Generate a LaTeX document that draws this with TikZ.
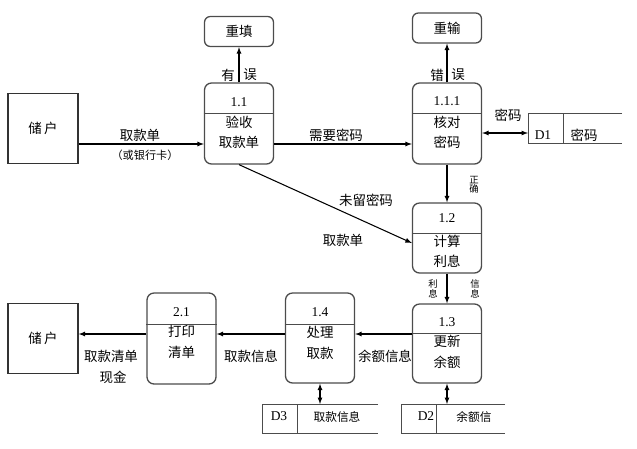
\documentclass[tikz,border=0pt]{standalone}
\usepackage{fontspec}
\setmainfont{Liberation Serif}
\newfontfamily\cjk{Noto Sans CJK SC}
\begin{document}
\begin{tikzpicture}[x=0.03cm,y=-0.03cm,
	proc/.style={draw=black!70,line width=1.1pt,rounded corners=6pt,minimum width=2.07cm},
	ext/.style={draw=black!80,line width=1.1pt,minimum width=2.1cm,minimum height=2.12cm},
	sep/.style={draw=black!70,line width=0.8pt},
	txt/.style={font=\cjk\fontsize{11.5}{17.5}\selectfont,align=center,inner sep=0pt},
	num/.style={font=\fontsize{11.5}{13}\selectfont,inner sep=0pt},
	lab/.style={font=\cjk\fontsize{11.5}{13}\selectfont,inner sep=0pt},
	sm/.style={font=\cjk\fontsize{8}{8}\selectfont,align=center,inner sep=0pt},
	flow/.style={-latex,line width=0.9pt},
	bi/.style={latex-latex,line width=0.9pt},
	store/.style={draw=black!70,line width=0.7pt}]
	\useasboundingbox (0,0) rectangle (637,449);
	% externals
	\node[ext,lab] (u1) at (43,128.5) {储\,户};
	\node[ext,lab] (u2) at (43,338.5) {储\,户};
	% 1.1
	\node[proc,minimum height=2.43cm] (p11) at (239,123.5) {};
	\draw[sep] (p11.west |- 0,113) -- (p11.east |- 0,113);
	\node[num] (p11n) at (239,102) {1.1};
	\node[txt] (p11t) at (239,132.5) {验收\\取款单};
	\node[proc,lab,minimum height=0.9cm,rounded corners=5pt] (r1) at (239,31.5) {重填};
	\draw[flow] (p11.north) -- (r1.south);
	\node[lab] (l1a) at (228,75) {有};
	\node[lab] (l1b) at (250,75) {误};
	\draw[flow] (u1.east |- 0,144) -- (p11.west |- 0,144);
	\node[lab] (l2a) at (140,135) {取款单};
	\node[font=\cjk\fontsize{9.5}{11}\selectfont,inner sep=0pt] (l2b) at (145,155) {（或银行卡）};
	% 1.1.1
	\node[proc,minimum height=2.43cm] (p111) at (447,123.5) {};
	\draw[sep] (p111.west |- 0,113) -- (p111.east |- 0,113);
	\node[num] (p111n) at (447,101) {1.1.1};
	\node[txt] (p111t) at (447,132.5) {核对\\密码};
	\node[proc,lab,minimum height=0.9cm,rounded corners=5pt] (r2) at (447,28) {重输};
	\draw[flow] (p111.north) -- (r2.south);
	\node[lab] (l3a) at (437,75) {错};
	\node[lab] (l3b) at (458,75) {误};
	\draw[flow] (p11.east |- 0,144) -- (p111.west |- 0,144);
	\node[lab] (l4) at (336,135) {需要密码};
	% D1
	\coordinate (d1) at (528,133);
	\draw[store] (622,113) -- (528,113) -- (528,143) -- (622,143);
	\draw[store] (563,113) -- (563,143);
	\node[num] (d1a) at (543,135) {D1};
	\node[lab] (d1b) at (584,135) {密码};
	\draw[bi] (p111.east |- d1) -- (d1);
	\node[lab] (l5) at (508,115) {密码};
	% 1.2
	\node[proc,minimum height=2.1cm] (p12) at (447,238) {};
	\draw[sep] (p12.west |- 0,233) -- (p12.east |- 0,233);
	\node[num] (p12n) at (447,218) {1.2};
	\node[txt] (p12t) at (447,251.5) {计算\\利息};
	\draw[flow] (p111.south) -- (p12.north);
	\node[sm] (l6) at (474,185) {正\\确};
	\draw[flow] (p11.south) -- (p12.west |- 0,243);
	\node[lab] (l7a) at (366,200) {未留密码};
	\node[lab] (l7b) at (343,240) {取款单};
	% 1.3
	\node[proc,minimum height=2.37cm] (p13) at (447,343.5) {};
	\draw[sep] (p13.west |- 0,333) -- (p13.east |- 0,333);
	\node[num] (p13n) at (447,322) {1.3};
	\node[txt] (p13t) at (447,352) {更新\\余额};
	\draw[flow] (p12.south) -- (p13.north);
	\node[sm] (l8a) at (433,289) {利\\息};
	\node[sm] (l8b) at (475,289) {信\\息};
	% 1.4
	\node[proc,minimum height=2.7cm] (p14) at (320,338) {};
	\draw[sep] (p14.west |- 0,324) -- (p14.east |- 0,324);
	\node[num] (p14n) at (320,312) {1.4};
	\node[txt] (p14t) at (320,343) {处理\\取款};
	\draw[flow] (p13.west |- 0,334) -- (p14.east |- 0,334);
	\node[lab] (l9) at (385,356) {余额信息};
	% 2.1
	\node[proc,minimum height=2.73cm] (p21) at (181.5,338.5) {};
	\draw[sep] (p21.west |- 0,324) -- (p21.east |- 0,324);
	\node[num] (p21n) at (181.5,312) {2.1};
	\node[txt] (p21t) at (181.5,342) {打印\\清单};
	\draw[flow] (p14.west |- 0,334) -- (p21.east |- 0,334);
	\node[lab] (l10) at (251,356) {取款信息};
	\draw[flow] (p21.west |- 0,334) -- (u2.east |- 0,334);
	\node[lab] (l11a) at (111,356) {取款清单};
	\node[lab] (l11b) at (113,377) {现金};
	% D3
	\coordinate (d3) at (320,404);
	\draw[store] (378,404) -- (262,404) -- (262,433) -- (378,433);
	\draw[store] (297,404) -- (297,433);
	\node[num] (d3a) at (279,416) {D3};
	\node[font=\cjk\fontsize{10}{12}\selectfont,inner sep=0pt] (d3b) at (337,417) {取款信息};
	\draw[bi] (p14.south) -- (d3);
	% D2
	\coordinate (d2) at (447,404);
	\draw[store] (505,404) -- (401,404) -- (401,433) -- (505,433);
	\draw[store] (436,404) -- (436,433);
	\node[num] (d2a) at (426,416) {D2};
	\node[font=\cjk\fontsize{10}{12}\selectfont,inner sep=0pt] (d2b) at (474,417) {余额信};
	\draw[bi] (p13.south) -- (d2);
\end{tikzpicture}
\end{document}
